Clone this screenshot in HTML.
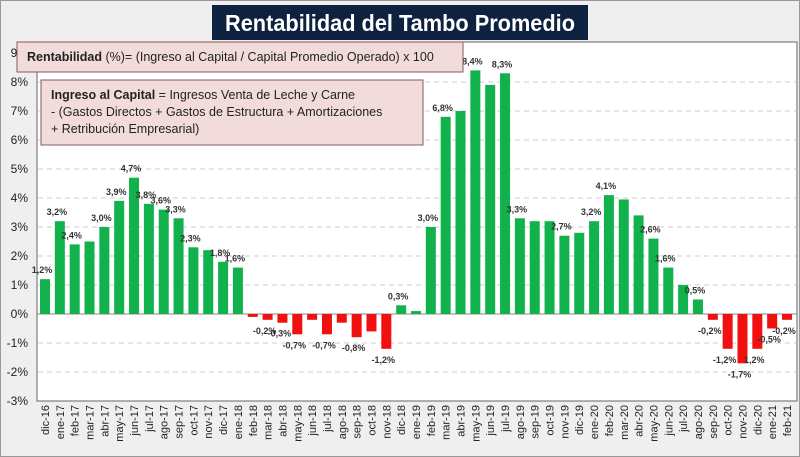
<!DOCTYPE html>
<html><head><meta charset="utf-8"><style>
body{margin:0;width:800px;height:457px;overflow:hidden;background:#efefef;font-family:"Liberation Sans",sans-serif}
svg{display:block}
</style></head><body>
<svg width="800" height="457">
<rect x="0.5" y="0.5" width="799" height="456" fill="#efefef" stroke="#999"/>
<rect x="37" y="42" width="760" height="359" fill="#fff" stroke="#666"/>
<g id="grid"></g><g id="yticks"></g><g id="bars"></g><g id="labels"></g><g id="xticks"></g>
<rect x="212" y="5" width="376" height="35" fill="#0e2240"/>
<text x="400" y="31" text-anchor="middle" fill="#fff" font-size="23" font-weight="bold" textLength="350" lengthAdjust="spacingAndGlyphs">Rentabilidad del Tambo Promedio</text>
<rect x="17" y="42" width="446" height="30" fill="#f2dcdb" stroke="#8b5a5a"/>
<text x="27" y="61" font-size="12.5" fill="#222"><tspan font-weight="bold">Rentabilidad</tspan>  (%)= (Ingreso al Capital / Capital Promedio Operado) x 100</text>
<rect x="41" y="80" width="382" height="65" fill="#f2dcdb" stroke="#8b5a5a"/>
<text font-size="12.5" fill="#222"><tspan x="51" y="99"><tspan font-weight="bold">Ingreso al Capital</tspan> = Ingresos Venta de Leche y Carne</tspan><tspan x="51" y="116">-  (Gastos Directos + Gastos de Estructura  + Amortizaciones</tspan><tspan x="51" y="133">+  Retribución Empresarial)</tspan></text>
</svg>
<script>
const categories=["dic-16","ene-17","feb-17","mar-17","abr-17","may-17","jun-17","jul-17","ago-17","sep-17","oct-17","nov-17","dic-17","ene-18","feb-18","mar-18","abr-18","may-18","jun-18","jul-18","ago-18","sep-18","oct-18","nov-18","dic-18","ene-19","feb-19","mar-19","abr-19","may-19","jun-19","jul-19","ago-19","sep-19","oct-19","nov-19","dic-19","ene-20","feb-20","mar-20","abr-20","may-20","jun-20","jul-20","ago-20","sep-20","oct-20","nov-20","dic-20","ene-21","feb-21"];
const values=[1.2,3.2,2.4,2.5,3.0,3.9,4.7,3.8,3.6,3.3,2.3,2.2,1.8,1.6,-0.1,-0.2,-0.3,-0.7,-0.2,-0.7,-0.3,-0.8,-0.6,-1.2,0.3,0.1,3.0,6.8,7.0,8.4,7.9,8.3,3.3,3.2,3.2,2.7,2.8,3.2,4.1,3.95,3.4,2.6,1.6,1.0,0.5,-0.2,-1.2,-1.7,-1.2,-0.5,-0.2];
const labelText=["1,2%","3,2%","2,4%","","3,0%","3,9%","4,7%","3,8%","3,6%","3,3%","2,3%","","1,8%","1,6%","","-0,2%","-0,3%","-0,7%","","-0,7%","","-0,8%","","-1,2%","0,3%","","3,0%","6,8%","","8,4%","","8,3%","3,3%","","","2,7%","","3,2%","4,1%","","","2,6%","1,6%","","0,5%","-0,2%","-1,2%","-1,7%","1,2%","-0,5%","-0,2%"];
const yTicks=[-3,-2,-1,0,1,2,3,4,5,6,7,8,9];
const NS="http://www.w3.org/2000/svg";
const y0=314,ppu=29,x0=45,pitch=14.84,bw=10;
const yS=v=>y0-v*ppu, xS=i=>x0+i*pitch;
function mk(t,a,p){const e=document.createElementNS(NS,t);for(const k in a)e.setAttribute(k,a[k]);document.getElementById(p).appendChild(e);return e;}
yTicks.forEach(t=>{
 if(t>-3&&t<9){const g=mk('line',{x1:38,x2:796,y1:yS(t),y2:yS(t),stroke:'#ccc','stroke-dasharray':'5,4'},'grid');
 
 }
 const l=mk('text',{x:28,y:yS(t)+4,'text-anchor':'end','font-size':12,fill:'#222'},'yticks');
 l.textContent=t+'%';
 
 
});
values.forEach((v,i)=>{
 const x=xS(i);
 const r=mk('rect',{x:x-bw/2,y:Math.min(yS(v),y0),width:bw,height:Math.abs(v*ppu),fill:v>=0?'#11b14b':'#f01010'},'bars');
 
 
 if(labelText[i]){
  const ly=v>=0?yS(v)-6:yS(v)+14;
  const t=mk('text',{x:x-3,y:ly,'text-anchor':'middle','font-size':9,'font-weight':'bold',fill:'#333'},'labels');
  t.textContent=labelText[i];
  
  
 }
 const c=mk('text',{transform:`translate(${x+4},405) rotate(-90)`,'text-anchor':'end','font-size':11,fill:'#222'},'xticks');
 c.textContent=categories[i];
 
 
});
mk('line',{x1:37,x2:797,y1:y0,y2:y0,stroke:'#888'},'grid');
</script>
</body></html>
